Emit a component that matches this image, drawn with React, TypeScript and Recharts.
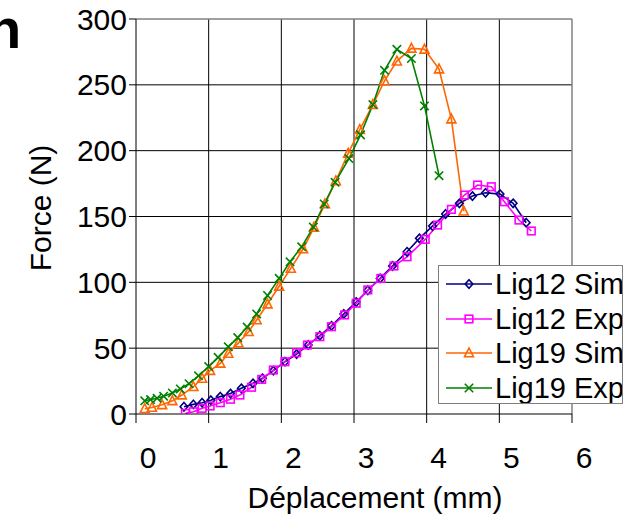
import React from 'react';
import { LineChart, Line, XAxis, YAxis, CartesianGrid, ReferenceLine } from 'recharts';

const lig12SimX = [0.66, 0.79, 0.91, 1.03, 1.16, 1.30, 1.45, 1.61, 1.74, 1.89, 2.05, 2.21, 2.37, 2.53, 2.69, 2.86, 3.03, 3.19, 3.36, 3.53, 3.73, 3.90, 4.08, 4.26, 4.45, 4.63, 4.81, 5.01, 5.19, 5.37];
const lig12SimF = [5.5, 7.3, 8.6, 10.5, 13.2, 15.5, 19.5, 23.3, 27.1, 32.9, 39.7, 45.5, 52.5, 59.5, 67, 76, 85, 94, 103, 112.4, 123.2, 133.4, 142.7, 151.9, 160, 165.5, 168, 167, 160, 145.3];

const lig12ExpX = [0.68, 0.79, 0.91, 1.02, 1.16, 1.30, 1.43, 1.59, 1.73, 1.89, 2.05, 2.21, 2.36, 2.53, 2.69, 2.87, 3.03, 3.19, 3.37, 3.55, 3.73, 3.98, 4.15, 4.34, 4.52, 4.70, 4.89, 5.07, 5.27, 5.44];
const lig12ExpF = [0.5, 1.7, 4.3, 6.1, 8.6, 11.2, 14.4, 20.3, 26.3, 33.4, 39.7, 46.5, 52.4, 58.7, 66.3, 75.2, 84.1, 94.2, 103, 112.4, 119.4, 132.6, 143.5, 155.4, 166.3, 173.9, 172.6, 161.2, 147.3, 139];

const lig19SimX = [0.12, 0.22, 0.36, 0.50, 0.63, 0.79, 0.91, 1.02, 1.16, 1.27, 1.41, 1.55, 1.66, 1.81, 1.97, 2.13, 2.30, 2.45, 2.60, 2.75, 2.92, 3.08, 3.26, 3.42, 3.59, 3.79, 3.97, 4.17, 4.34, 4.51];
const lig19SimF = [4, 5, 7, 10, 14.4, 20.7, 27, 33, 38.5, 46, 54, 62.5, 71.4, 83.5, 97, 110.6, 125.3, 141.8, 159.5, 177, 198, 216, 235, 253, 268, 277.7, 277, 262, 224, 154];

const lig19ExpX = [0.12, 0.20, 0.29, 0.38, 0.50, 0.61, 0.73, 0.86, 1.00, 1.13, 1.27, 1.40, 1.53, 1.66, 1.81, 1.97, 2.12, 2.28, 2.44, 2.59, 2.74, 2.93, 3.09, 3.26, 3.42, 3.59, 3.79, 3.97, 4.17];
const lig19ExpF = [10, 11, 12, 13.5, 16, 19, 23, 29, 36, 43, 51, 58, 66, 76, 90, 103, 115.6, 127, 142, 159.5, 176, 194, 212, 235, 261, 277, 270, 234, 181];

const xTicks = [0, 1, 2, 3, 4, 5, 6];
const yTicks = [0, 50, 100, 150, 200, 250, 300];

const seriesNames = ['Lig12 Sim', 'Lig12 Exp', 'Lig19 Sim', 'Lig19 Exp'];
const seriesColors = ['#000080', '#FF00FF', '#FF6600', '#008000'];
const seriesShapes = ['diamond', 'square', 'triangle', 'cross'];

const toData = (xs: number[], fs: number[]) => xs.map((x, i) => ({ x, y: fs[i] }));
const seriesData = [
  toData(lig12SimX, lig12SimF),
  toData(lig12ExpX, lig12ExpF),
  toData(lig19SimX, lig19SimF),
  toData(lig19ExpX, lig19ExpF),
];

const FONT = '"Liberation Sans", Arial, sans-serif';

function Marker({ shape, cx, cy, color }: { shape: string; cx: number; cy: number; color: string }) {
  const sw = 1.6;
  if (shape === 'diamond') {
    return <path d={`M${cx},${cy - 4.2} L${cx + 3.8},${cy} L${cx},${cy + 4.2} L${cx - 3.8},${cy} Z`} fill="none" stroke={color} strokeWidth={sw} />;
  }
  if (shape === 'square') {
    return <rect x={cx - 3.8} y={cy - 3.8} width={7.6} height={7.6} fill="none" stroke={color} strokeWidth={sw} />;
  }
  if (shape === 'triangle') {
    return <path d={`M${cx},${cy - 5} L${cx + 4.5},${cy + 3.8} L${cx - 4.5},${cy + 3.8} Z`} fill="none" stroke={color} strokeWidth={sw} />;
  }
  return (
    <path d={`M${cx - 4.2},${cy - 4.2} L${cx + 4.2},${cy + 4.2} M${cx - 4.2},${cy + 4.2} L${cx + 4.2},${cy - 4.2}`} fill="none" stroke={color} strokeWidth={sw} />
  );
}

const makeDot = (shape: string, color: string) => (props: any) => {
  const { cx, cy, index } = props;
  if (cx == null || cy == null) return <g key={`d${index}`} />;
  return (
    <g key={`d${shape}${index}`}>
      <Marker shape={shape} cx={cx} cy={cy} color={color} />
    </g>
  );
};

const XTick = (props: any) => {
  const { x, y, payload } = props;
  return (
    <text x={x + 12} y={y} dy="0.71em" textAnchor="middle" fill="#000" fontSize={30} fontFamily={FONT}>
      {payload.value}
    </text>
  );
};

const YLabel = () => (
  <text x={40} y={208} transform="rotate(-90 40 208)" textAnchor="middle" dominantBaseline="central" fill="#000" fontSize={30} fontFamily={FONT}>
    Force (N)
  </text>
);

const XLabel = () => (
  <text x={375} y={508} textAnchor="middle" fill="#000" fontSize={30} fontFamily={FONT}>
    Déplacement (mm)
  </text>
);

const ChartLegend = () => (
  <div
    style={{
      position: 'absolute',
      left: 438,
      top: 265,
      width: 185,
      height: 139,
      boxSizing: 'border-box',
      border: '1.5px solid #808080',
      background: '#fff',
      paddingTop: 1,
      overflow: 'hidden',
    }}
  >
    {seriesNames.map((name, i) => (
      <div key={name} style={{ display: 'flex', alignItems: 'center', height: 34.5 }}>
        <svg width={56} height={20} style={{ flex: 'none' }}>
          <line x1={7} y1={10} x2={53} y2={10} stroke={seriesColors[i]} strokeWidth={1.6} />
          <Marker shape={seriesShapes[i]} cx={30} cy={10} color={seriesColors[i]} />
        </svg>
        <span style={{ fontFamily: FONT, fontSize: 29, color: '#000', whiteSpace: 'nowrap', lineHeight: '30px' }}>{name}</span>
      </div>
    ))}
  </div>
);

export default function App() {
  return (
    <div style={{ position: 'absolute', left: 0, top: 0, width: 639, height: 517, background: '#fff', overflow: 'hidden' }}>
      <div
        style={{
          position: 'absolute',
          left: -13,
          top: -6,
          fontFamily: FONT,
          fontWeight: 'bold',
          fontSize: 56,
          lineHeight: '70px',
          color: '#000',
        }}
      >
        n
      </div>
      <LineChart width={639} height={517} margin={{ top: 19, right: 67, bottom: 0, left: 0 }}>
        <CartesianGrid stroke="#000" strokeWidth={1} horizontalValues={[50, 100, 150, 200, 250]} verticalValues={[1, 2, 3, 4, 5]} />
        <ReferenceLine y={300} stroke="#808080" strokeWidth={1.5} />
        <ReferenceLine x={6} stroke="#808080" strokeWidth={1.5} />
        <XAxis
          type="number"
          dataKey="x"
          domain={[0, 6]}
          ticks={xTicks}
          allowDataOverflow
          height={103}
          stroke="#000"
          tickSize={9}
          tickMargin={24}
          tick={<XTick />}
          label={<XLabel />}
        />
        <YAxis
          type="number"
          dataKey="y"
          domain={[0, 300]}
          ticks={yTicks}
          allowDataOverflow
          width={136}
          stroke="#000"
          tickSize={7}
          tickMargin={2}
          tick={{ fill: '#000', fontSize: 30, fontFamily: FONT }}
          label={<YLabel />}
        />
        {seriesData.map((d, i) => (
          <Line
            key={seriesNames[i]}
            data={d}
            dataKey="y"
            name={seriesNames[i]}
            type="linear"
            stroke={seriesColors[i]}
            strokeWidth={1.6}
            dot={makeDot(seriesShapes[i], seriesColors[i])}
            isAnimationActive={false}
          />
        ))}
      </LineChart>
      <ChartLegend />
    </div>
  );
}
